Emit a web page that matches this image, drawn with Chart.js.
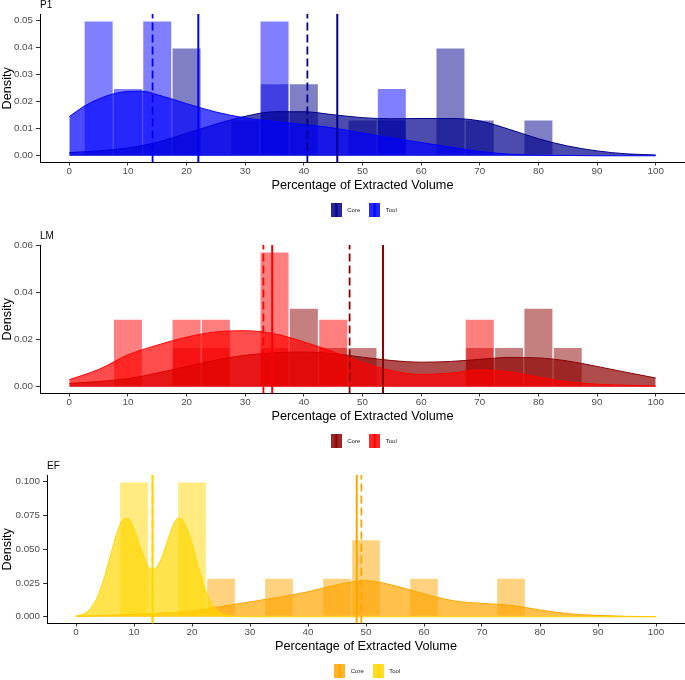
<!DOCTYPE html>
<html><head><meta charset="utf-8">
<script src="https://cdn.jsdelivr.net/npm/chart.js@4.4.0/dist/chart.umd.min.js"></script>
<style>
html,body{margin:0;padding:0;overflow:hidden;background:#fff;width:685px;height:680px}
.panel{position:absolute;left:0;width:685px}
canvas{display:block}
</style></head><body>
<div class="panel" style="top:0px"><canvas id="c1" width="685" height="223"></canvas></div>
<div class="panel" style="top:231px"><canvas id="c2" width="685" height="223"></canvas></div>
<div class="panel" style="top:461px"><canvas id="c3" width="685" height="223"></canvas></div>
<script>
// ---------- data ----------
const xTicks = [0,10,20,30,40,50,60,70,80,90,100];
const binCenters = [5,10,15,20,25,30,35,40,45,50,55,60,65,70,75,80,85];
const densX = [0,5,10,15,20,25,30,35,40,45,50,55,60,65,70,75,80,85,90,95,100];
const groups = ['Core','Tool'];

// P1
const p1YTicks = [0,0.01,0.02,0.03,0.04,0.05];
const p1YRange = [-0.0025,0.0525];
const p1CoreHist = [null,null,null,0.04,null,0.0133,0.0267,0.0267,null,0.0133,0.0133,null,0.04,0.0133,null,0.0133,null];
const p1ToolHist = [0.05,0.025,0.05,null,null,null,0.05,null,null,null,0.025,null,null,null,null,null,null];
const p1CoreDens = [0.0012,0.0018,0.0029,0.005,0.0083,0.0117,0.0146,0.0163,0.0163,0.0152,0.0141,0.0137,0.0138,0.0138,0.0129,0.0098,0.0063,0.0036,0.0018,0.0007,0.0003];
const p1ToolDensX = [0,2.5,5,7.5,10,12.5,15,17.5,20,25,30,35,40,45,50,55,60,65,70,75,80,85,90,95,100];
const p1ToolDens = [0.0145,0.0183,0.021,0.0229,0.0238,0.0239,0.0226,0.021,0.0193,0.0162,0.014,0.0127,0.0116,0.0103,0.0084,0.0066,0.0049,0.0032,0.0016,0.0006,0.0002,0.0001,0,0,0];
const p1Means = [45.7,22.0];
const p1Medians = [40.6,14.2];

// LM
const lmYTicks = [0,0.02,0.04,0.06];
const lmYRange = [-0.00286,0.06];
const lmCoreHist = [null,null,null,0.0167,0.0167,null,0.0167,0.0333,0.0167,0.0167,null,null,null,0.0167,0.0167,0.0333,0.0167];
const lmToolHist = [null,0.0286,null,0.0286,0.0286,null,0.0571,null,0.0286,null,null,null,null,0.0286,null,null,null];
const lmCoreDens = [0.0014,0.0022,0.0034,0.0058,0.0085,0.0113,0.0133,0.0144,0.0147,0.014,0.0125,0.0111,0.0104,0.0107,0.0116,0.0124,0.0122,0.0109,0.0086,0.0061,0.0037];
const lmToolDens = [0.003,0.0073,0.0135,0.0176,0.021,0.0232,0.0237,0.0224,0.019,0.0148,0.0103,0.0068,0.0052,0.0058,0.0071,0.0063,0.0041,0.0021,0.0011,0.0006,0.0003];
const lmMeans = [53.5,34.6];
const lmMedians = [47.8,33.1];

// EF
const efYTicks = [0,0.025,0.05,0.075,0.1];
const efYRange = [-0.005,0.105];
const efCoreHist = [null,null,null,null,0.0286,null,0.0286,null,0.0286,0.0571,null,0.0286,null,null,0.0286,null,null];
const efToolHist = [null,0.1,null,0.1,null,null,null,null,null,null,null,null,null,null,null,null,null];
const efCoreDens = [0.0004,0.0009,0.0017,0.0028,0.0043,0.0076,0.011,0.0145,0.0185,0.0237,0.0268,0.0229,0.017,0.0119,0.0099,0.0085,0.005,0.0022,0.001,0.0003,0.0001];
const efToolDensX = [0,1,2,3,4,5,6,7,8,9,10,11,12,13,14,15,16,17,18,19,20,21,22,23,24,25,26,27,28,30,35,40,45,50,55,60,65,70,75,80,85,90,95,100];
const efToolDens = [0.0006,0.0016,0.0041,0.0091,0.0179,0.0308,0.0464,0.0612,0.0715,0.0728,0.0649,0.0526,0.0411,0.035,0.037,0.0464,0.059,0.0702,0.0732,0.0669,0.0542,0.0384,0.0239,0.013,0.0062,0.0026,0.001,0.0003,0.0001,0,0,0,0,0,0,0,0,0,0,0,0,0,0,0];
const efMeans = [48.4,13.2];
const efMedians = [49.2,13.2];

// ---------- helpers ----------
const FONT = "'Liberation Sans', Arial, Helvetica, sans-serif";
Chart.defaults.font.family = FONT;

function rgba(hex, a){const n=parseInt(hex.slice(1),16);return `rgba(${(n>>16)&255},${(n>>8)&255},${n&255},${a})`;}
function makeKey(color){
  const c=document.createElement('canvas');c.width=11;c.height=14;
  const g=c.getContext('2d');
  g.fillStyle='#fff';g.fillRect(0,0,11,14);
  g.fillStyle=rgba(color,0.5);g.fillRect(0,0,11,14);
  g.fillStyle=rgba(color,0.7);g.fillRect(0,0,11,14);
  g.fillStyle=color;g.fillRect(4.5,0,2,14);
  return c;
}
function hist(values,color,order){
  return {type:'bar',data:binCenters.map((c,i)=>({x:c,y:values[i]})),backgroundColor:rgba(color,0.5),
    borderColor:'rgba(255,255,255,0.35)',borderWidth:1,borderSkipped:false,grouped:false,
    barPercentage:1,categoryPercentage:1,order};
}
function dens(xs,ys,color,order){
  return {type:'line',data:xs.map((x,i)=>({x,y:ys[i]})),borderColor:color,borderWidth:1,
    backgroundColor:rgba(color,0.7),fill:'origin',pointRadius:0,cubicInterpolationMode:'monotone',order};
}
function vline(v,yr,color,dashed){
  return {type:'line',data:[{x:v,y:yr[0]},{x:v,y:yr[1]}],borderColor:color,borderWidth:dashed?1.8:2,
    borderDash:dashed?[8,4]:[],pointRadius:0,fill:false,order:0};
}

function makePanel(id,p){
  const [coreC,toolC]=p.colors;
  const datasets=[
    vline(p.medians[0],p.yRange,coreC,true),
    vline(p.means[0],p.yRange,coreC,false),
    vline(p.medians[1],p.yRange,toolC,true),
    vline(p.means[1],p.yRange,toolC,false),
    dens(p.toolX,p.toolDens,toolC,1),
    dens(densX,p.coreDens,coreC,2),
    hist(p.toolHist,toolC,3),
    hist(p.coreHist,coreC,4)
  ];
  const axisTick={display:true,drawOnChartArea:false,drawTicks:true,color:'#333',lineWidth:1,offset:false};
  new Chart(document.getElementById(id),{
    type:'line',
    data:{datasets},
    options:{
      responsive:false,animation:false,devicePixelRatio:1,
      layout:{padding:{top:0,left:0,right:0,bottom:0}},
      plugins:{
        tooltip:{enabled:false},
        title:{display:true,text:p.title,align:'start',fullSize:false,color:'#000',
          font:{size:10,lineHeight:1,weight:'normal'},padding:{top:0,bottom:4}},
        legend:{display:true,position:'bottom',fullSize:false,
          labels:{usePointStyle:true,pointStyleWidth:16,padding:6.5,color:'#222',font:{size:6},
            generateLabels:()=>groups.map((g,i)=>({text:g,pointStyle:makeKey(p.colors[i]),fillStyle:p.colors[i],
              strokeStyle:p.colors[i],lineWidth:0,hidden:false,datasetIndex:i,fontColor:'#222'}))}}
      },
      scales:{
        x:{type:'linear',min:-5,max:105,offset:false,
          afterBuildTicks:s=>{s.ticks=xTicks.map(v=>({value:v}));},
          afterFit:s=>{s.height=38;},
          ticks:{color:'#4d4d4d',font:{size:9.8},padding:0,maxRotation:0,autoSkip:false,callback:v=>String(v)},
          grid:Object.assign({tickLength:3},axisTick),
          border:{display:true,color:'#000',width:1},
          title:{display:true,text:'Percentage of Extracted Volume',color:'#000',font:{size:12.7},padding:{top:0,bottom:7.5}}},
        y:{type:'linear',min:p.yRange[0],max:p.yRange[1],
          afterBuildTicks:s=>{s.ticks=p.yTicks.map(v=>({value:v}));},
          afterFit:s=>{s.width=p.yWidth;},
          ticks:{color:'#4d4d4d',font:{size:9.8},padding:3,callback:v=>Number(v).toFixed(p.dec)},
          grid:Object.assign({tickLength:4},axisTick),
          border:{display:true,color:'#000',width:1},
          title:{display:true,text:'Density',color:'#000',font:{size:12.7},padding:{top:0,bottom:0}}}
      }
    }
  });
}

makePanel('c1',{title:'P1',colors:['#00008B','#0000FF'],yTicks:p1YTicks,yRange:p1YRange,dec:2,yWidth:40,
  coreHist:p1CoreHist,toolHist:p1ToolHist,coreDens:p1CoreDens,toolX:p1ToolDensX,toolDens:p1ToolDens,means:p1Means,medians:p1Medians});
makePanel('c2',{title:'LM',colors:['#8B0000','#FF0000'],yTicks:lmYTicks,yRange:lmYRange,dec:2,yWidth:40,
  coreHist:lmCoreHist,toolHist:lmToolHist,coreDens:lmCoreDens,toolX:densX,toolDens:lmToolDens,means:lmMeans,medians:lmMedians});
makePanel('c3',{title:'EF',colors:['#FFA500','#FFD700'],yTicks:efYTicks,yRange:efYRange,dec:3,yWidth:47,
  coreHist:efCoreHist,toolHist:efToolHist,coreDens:efCoreDens,toolX:efToolDensX,toolDens:efToolDens,means:efMeans,medians:efMedians});
</script>
</body></html>
